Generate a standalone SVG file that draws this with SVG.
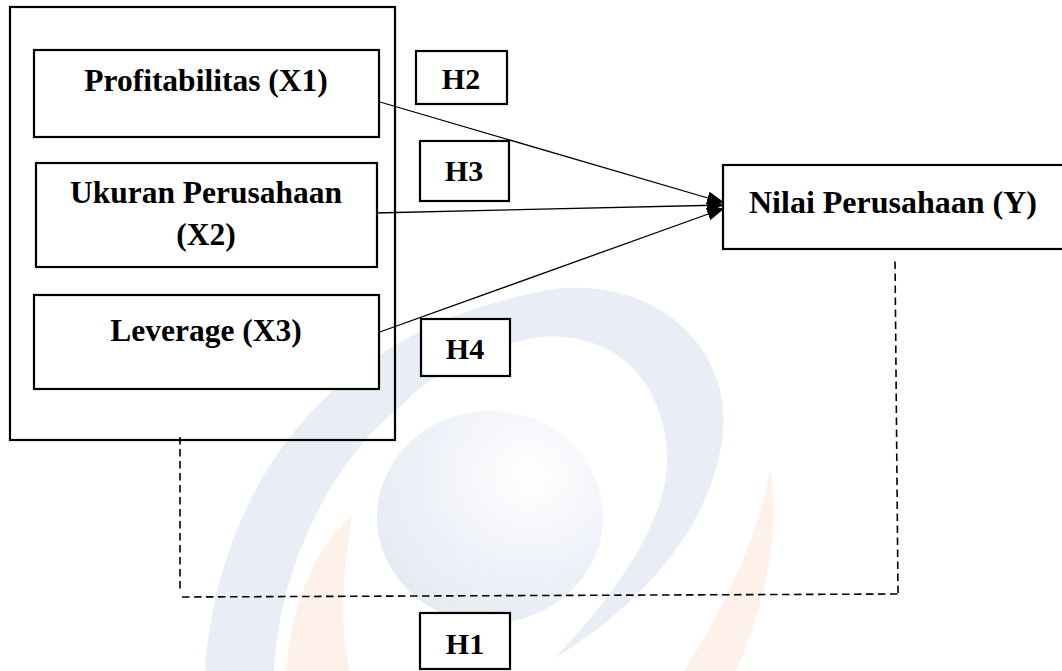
<svg xmlns="http://www.w3.org/2000/svg" width="1062" height="671" viewBox="0 0 1062 671">
  <style>
    .box { fill: #ffffff; stroke: #000000; stroke-width: 2.2; }
    .outer { fill: none; stroke: #000000; stroke-width: 2.2; }
    .lbl { font-family: "Liberation Serif", "Times New Roman", serif; font-weight: bold; fill: #000000; text-anchor: middle; }
    .var { font-size: 31.5px; }
    .hyp { font-size: 30px; }
    .arrow { stroke: #000000; stroke-width: 1.3; fill: none; marker-end: url(#head); }
    .dash { stroke: #000000; stroke-width: 1.6; fill: none; stroke-dasharray: 7.5 4.5; }
    .wm-blue { fill: #e9eef6; }
    .wm-orange { fill: #fdf1ea; }
  </style>
  <defs>
    <marker id="head" viewBox="0 0 18 13" refX="18" refY="6.5" markerWidth="18" markerHeight="13" markerUnits="userSpaceOnUse" orient="auto">
      <path d="M0,0 L18,6.5 L0,13 z" fill="#000000"/>
    </marker>
    <radialGradient id="sphere" cx="0.68" cy="0.3" r="0.8">
      <stop offset="0" stop-color="#ffffff"/>
      <stop offset="0.55" stop-color="#eff2f8"/>
      <stop offset="1" stop-color="#e5eaf2"/>
    </radialGradient>
  </defs>

  <rect x="0" y="0" width="1062" height="671" fill="#ffffff"/>

  <g id="watermark">
    <path class="wm-blue" d="M205 671 C215 520 300 330 560 288 C660 280 735 350 722 440 C708 540 625 615 555 658 C610 600 672 520 667 450 C660 365 600 332 540 337 C385 362 282 520 274 671 Z"/>
    <path class="wm-blue" d="M312 492 C330 440 370 410 412 396 C382 422 346 452 320 500 Z"/>
    <ellipse cx="490" cy="517" rx="113" ry="106" fill="url(#sphere)"/>
    <path class="wm-orange" d="M286 671 C292 600 318 545 352 515 C344 570 338 620 350 671 Z"/>
    <path class="wm-orange" d="M684 671 C722 610 758 540 770 470 C782 532 762 612 736 671 Z"/>
  </g>

  <g id="independents-group">
    <rect class="outer" x="10" y="7" width="385" height="433"/>
  </g>

  <g id="connectors">
    <line class="arrow" x1="380" y1="102" x2="725" y2="203"/>
    <line class="arrow" x1="374" y1="213" x2="725" y2="205"/>
    <line class="arrow" x1="377" y1="333" x2="725" y2="208"/>
    <line class="dash" x1="180" y1="437" x2="180" y2="591"/>
    <line class="dash" x1="182" y1="597" x2="898" y2="594"/>
    <line class="dash" x1="898" y1="593" x2="895" y2="258"/>
  </g>

  <g id="node-x1">
    <rect class="box" x="34" y="50" width="345" height="87"/>
    <text class="lbl var" x="206" y="91">Profitabilitas (X1)</text>
  </g>
  <g id="node-x2">
    <rect class="box" x="36" y="163" width="341" height="104"/>
    <text class="lbl var" x="206" y="203">Ukuran Perusahaan</text>
    <text class="lbl var" x="206" y="245">(X2)</text>
  </g>
  <g id="node-x3">
    <rect class="box" x="34" y="295" width="345" height="94"/>
    <text class="lbl var" x="206" y="341">Leverage (X3)</text>
  </g>
  <g id="node-y">
    <rect class="box" x="723" y="165" width="350" height="84"/>
    <text class="lbl" x="893" y="213" font-size="32">Nilai Perusahaan (Y)</text>
  </g>
  <g id="label-h2">
    <rect class="box" x="416" y="51" width="91" height="53"/>
    <text class="lbl hyp" x="461" y="89">H2</text>
  </g>
  <g id="label-h3">
    <rect class="box" x="420" y="141" width="89" height="60"/>
    <text class="lbl hyp" x="464" y="181">H3</text>
  </g>
  <g id="label-h4">
    <rect class="box" x="421" y="319" width="89" height="57"/>
    <text class="lbl hyp" x="465" y="359">H4</text>
  </g>
  <g id="label-h1">
    <rect class="box" x="420" y="613" width="90" height="56"/>
    <text class="lbl hyp" x="465" y="654">H1</text>
  </g>
</svg>
